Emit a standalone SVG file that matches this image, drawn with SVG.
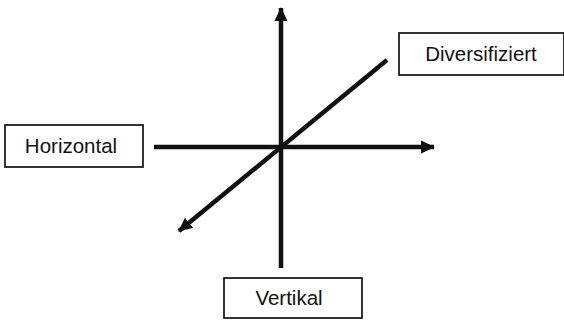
<svg xmlns="http://www.w3.org/2000/svg" width="564" height="320" viewBox="0 0 564 320">
<style>
.box{fill:#fff;stroke:#111;stroke-width:1.7}
.lbl{font-family:"Liberation Sans",Arial,sans-serif;font-size:20.5px;fill:#111}
.ax{stroke:#111;stroke-width:4.5;fill:none}
</style>
<defs>
<marker id="ah" markerUnits="userSpaceOnUse" markerWidth="16" markerHeight="16" viewBox="0 0 16 16" refX="13" refY="8" orient="auto">
<path d="M0,1.5 L14,8 L0,14.5 Z" fill="#111"/>
</marker>
</defs>
<rect width="564" height="320" fill="#fff"/>
<g id="connectors">
<line class="ax" x1="281" y1="268" x2="281" y2="8" marker-end="url(#ah)"/>
<line class="ax" x1="154" y1="147" x2="434" y2="147" marker-end="url(#ah)"/>
<line class="ax" x1="387" y1="60" x2="179" y2="231" marker-end="url(#ah)"/>
</g>
<g id="horizontal">
<rect class="box" x="5" y="125" width="138" height="42"/>
<text class="lbl" x="71" y="153" text-anchor="middle">Horizontal</text>
</g>
<g id="diversifiziert">
<rect class="box" x="399" y="33" width="165" height="42"/>
<text class="lbl" x="481" y="61" text-anchor="middle">Diversifiziert</text>
</g>
<g id="vertikal">
<rect class="box" x="224" y="278" width="138" height="40"/>
<text class="lbl" x="289" y="305" text-anchor="middle">Vertikal</text>
</g>
</svg>
